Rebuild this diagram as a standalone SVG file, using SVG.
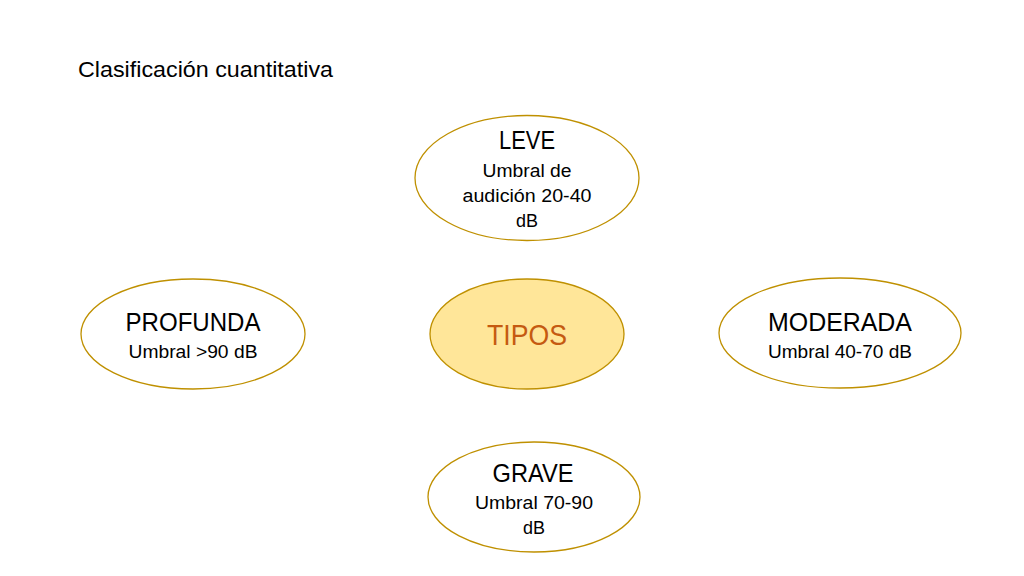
<svg xmlns="http://www.w3.org/2000/svg" width="1024" height="576" viewBox="0 0 1024 576">
<style>
text{font-family:"Liberation Sans",Arial,sans-serif;fill:#000;}
.node ellipse{fill:#fff;stroke:#BF9000;stroke-width:1.3;}
.node .hub{fill:#FFE699;}
.t{font-size:25px;text-anchor:middle;}
.s{font-size:17.5px;text-anchor:middle;}
.hubtxt{font-size:30px;text-anchor:middle;fill:#C55A11;}
</style>
<rect width="1024" height="576" fill="#fff"/>
<text x="78" y="77" font-size="22" textLength="255" lengthAdjust="spacingAndGlyphs">Clasificación cuantitativa</text>
<g id="connectors"></g>
<g id="leve" class="node">
<ellipse cx="527" cy="178" rx="112" ry="62.5"/>
<text class="t" x="527" y="149" textLength="56" lengthAdjust="spacingAndGlyphs">LEVE</text>
<text class="s" x="527" y="177" textLength="89" lengthAdjust="spacingAndGlyphs">Umbral de</text>
<text class="s" x="527" y="202" textLength="129" lengthAdjust="spacingAndGlyphs">audición 20-40</text>
<text class="s" x="527" y="227" textLength="22" lengthAdjust="spacingAndGlyphs">dB</text>
</g>
<g id="tipos" class="node">
<ellipse class="hub" cx="527" cy="334" rx="97" ry="55"/>
<text class="hubtxt" x="527" y="345" textLength="80" lengthAdjust="spacingAndGlyphs">TIPOS</text>
</g>
<g id="profunda" class="node">
<ellipse cx="193" cy="334" rx="112" ry="55"/>
<text class="t" x="193" y="331" textLength="135" lengthAdjust="spacingAndGlyphs">PROFUNDA</text>
<text class="s" x="193" y="358" textLength="129" lengthAdjust="spacingAndGlyphs">Umbral &gt;90 dB</text>
</g>
<g id="moderada" class="node">
<ellipse cx="840" cy="333" rx="121" ry="55"/>
<text class="t" x="840" y="331" textLength="144" lengthAdjust="spacingAndGlyphs">MODERADA</text>
<text class="s" x="840" y="358" textLength="144" lengthAdjust="spacingAndGlyphs">Umbral 40-70 dB</text>
</g>
<g id="grave" class="node">
<ellipse cx="534" cy="497" rx="106" ry="55"/>
<text class="t" x="533" y="482" textLength="81" lengthAdjust="spacingAndGlyphs">GRAVE</text>
<text class="s" x="534" y="509" textLength="118" lengthAdjust="spacingAndGlyphs">Umbral 70-90</text>
<text class="s" x="534" y="534" textLength="22" lengthAdjust="spacingAndGlyphs">dB</text>
</g>
</svg>
